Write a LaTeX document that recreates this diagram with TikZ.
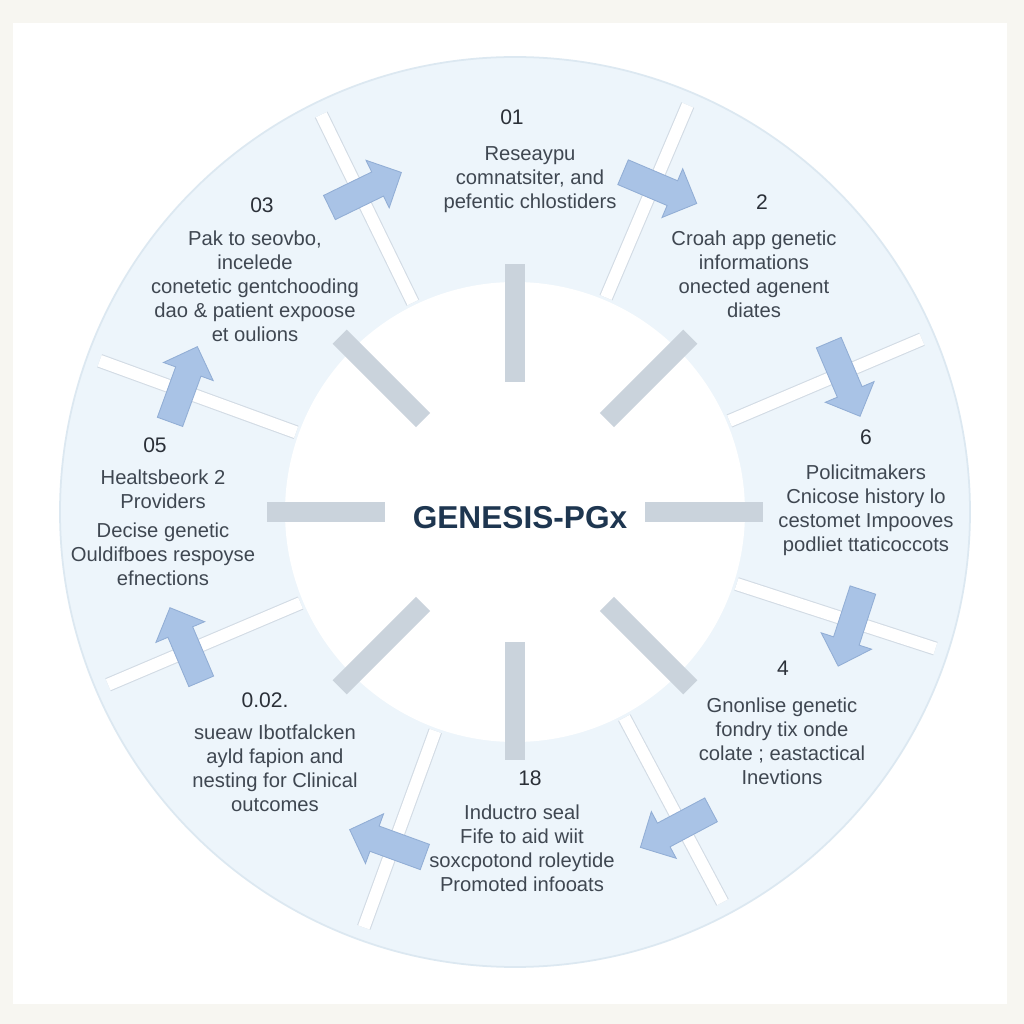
\documentclass[tikz,border=0pt]{standalone}
\usepackage{fontspec}
\setmainfont{Liberation Sans}
\usetikzlibrary{shapes.arrows,positioning}
\definecolor{paper}{HTML}{F7F6F1}
\definecolor{ringblue}{HTML}{EDF5FB}
\definecolor{ringedge}{HTML}{DCE8F1}
\definecolor{spokegray}{HTML}{CAD3DC}
\definecolor{divedge}{HTML}{D2DBE4}
\definecolor{arrowfill}{HTML}{A9C3E6}
\definecolor{arrowedge}{HTML}{92AED5}
\definecolor{numtext}{HTML}{2B3038}
\definecolor{bodytext}{HTML}{3F4751}
\definecolor{titlenavy}{HTML}{1E3650}
\begin{document}
\begin{tikzpicture}[x=0.02cm, y=0.02cm,
	stepnum/.style={text=numtext, font=\fontsize{12}{14}\selectfont},
	stepbody/.style={text=bodytext, align=center, font=\fontsize{11.5}{13.7}\selectfont},
	spoke/.style={spokegray, line width=0.4cm},
	divider/.style={draw=divedge, line width=0.6pt, double=white, double distance=0.24cm},
	flow/.style={single arrow, draw=arrowedge, fill=arrowfill, line width=0.5pt,
		minimum height=1.6cm, minimum width=1.04cm, single arrow head extend=0.26cm,
		inner xsep=0pt, inner ysep=0.26cm}]
	\useasboundingbox[fill=paper] (-515,-512) rectangle (509,512);
	\fill[white] (-502,489) rectangle (492,-492);
	% ring and hub
	\filldraw[fill=ringblue, draw=ringedge, line width=1pt] (0,0) circle (455);
	\fill[white] (0,0) circle (230);
	\foreach \a in {0,45,...,315}
		\draw[spoke] (\a:130) -- (\a:248);
	% dividers with the flow arrows
	\foreach \a [count=\i] in {116,67,23,-18,-62,-110,-157,160} {
		\draw[divider] (\a:233) -- (\a:442);
		\node[flow, rotate=\a-90] (arr\i) at (\a:355) {};
	}
	\node[font=\fontsize{18}{20}\selectfont\bfseries, text=titlenavy] (hub) at (5,-6) {GENESIS-PGx};
	% steps
	\node[stepnum] (n1) at (-3,395) {01};
	\node[stepbody] (s1) at (15,332) {Reseaypu\\comnatsiter, and\\pefentic chlostiders};
	\node[stepnum] (n2) at (247,310) {2};
	\node[stepbody] (s2) at (239,238) {Croah app genetic\\informations\\onected agenent\\diates};
	\node[stepnum] (n6) at (351,75) {6};
	\node[stepbody] (s6) at (351,2) {Policitmakers\\Cnicose history lo\\cestomet Impooves\\podliet ttaticoccots};
	\node[stepnum] (n4) at (268,-156) {4};
	\node[stepbody] (s4) at (267,-229) {Gnonlise genetic\\fondry tix onde\\colate ; eastactical\\Inevtions};
	\node[stepnum] (n18) at (15,-266) {18};
	\node[stepbody] (s18) at (7,-336) {Inductro seal\\Fife to aid wiit\\soxcpotond roleytide\\Promoted infooats};
	\node[stepnum] (n02) at (-250,-188) {0.02.};
	\node[stepbody] (s02) at (-240,-256) {sueaw Ibotfalcken\\ayld fapion and\\nesting for Clinical\\outcomes};
	\node[stepnum] (n05) at (-360,67) {05};
	\node[stepbody] (s05) at (-352,-16) {Healtsbeork 2\\Providers\\[0.1cm]Decise genetic\\Ouldifboes respoyse\\efnections};
	\node[stepnum] (n03) at (-253,307) {03};
	\node[stepbody] (s03) at (-260,226) {Pak to seovbo,\\incelede\\conetetic gentchooding\\dao \& patient expoose\\et oulions};
\end{tikzpicture}
\end{document}
